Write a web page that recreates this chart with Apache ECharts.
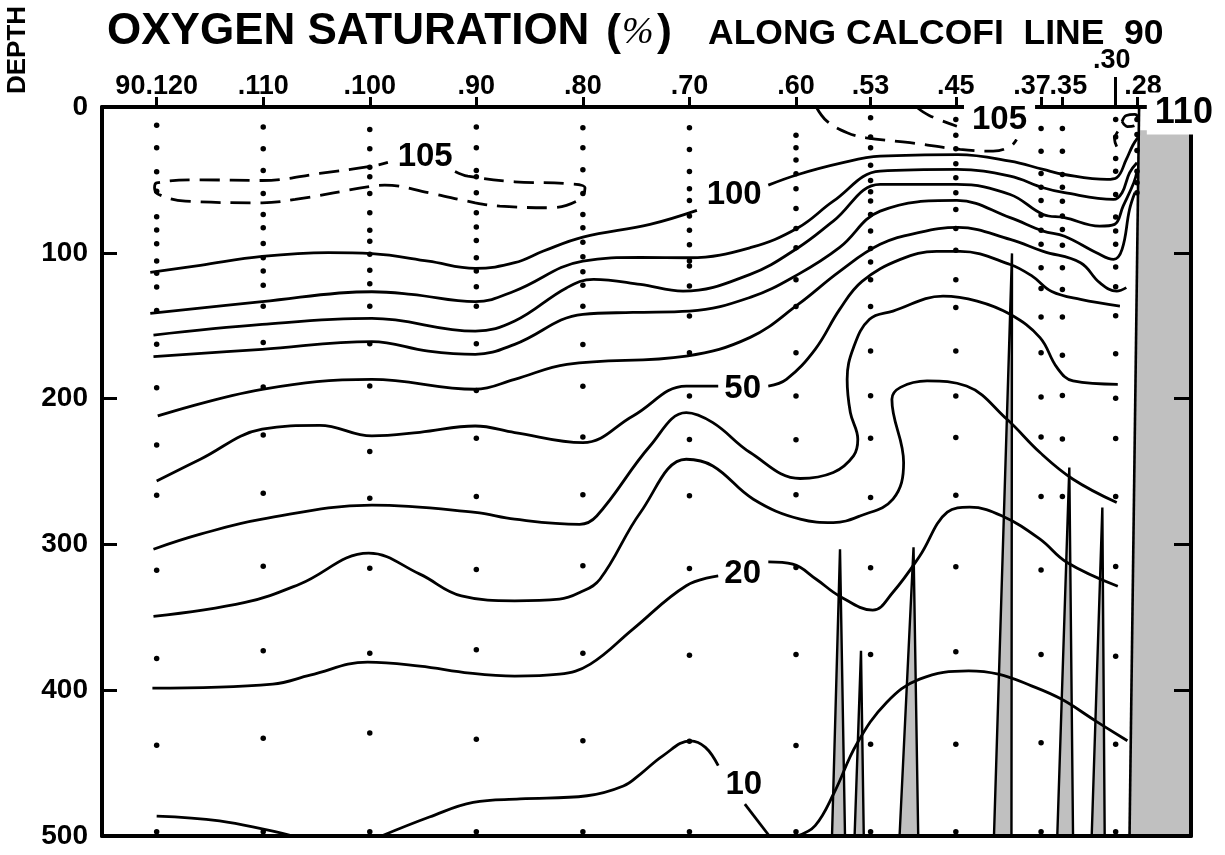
<!DOCTYPE html>
<html><head><meta charset="utf-8">
<script src="https://cdn.jsdelivr.net/npm/echarts@6/dist/echarts.min.js"></script>
<style>html,body{margin:0;padding:0;background:#fff}#c{width:1225px;height:855px}</style>
</head><body><div id="c"></div>
<script>
// ---- station axis (station number along CalCOFI line 90) ----
const tickStations = [120,110,100,90,80,70,60,53,45,37,35,28];
const raisedStation = [30];
const depthTicks = [0,100,200,300,400,500];

// ---- sample depths (m) at each station ----
const depths120 = [12.5,28,44.4,57.7,75.3,84.4,93.8,105.7,114.1,123.5,139.5,162.8,192.5,231.8,266.3,317.7,378.2,437.7,497];
const depths110 = [13.8,28.6,43.5,59.3,73.7,82.8,93.6,103.4,112.5,122.2,136.7,161.6,192,225,265,315,373,433,497];
const depths100 = [15.4,28.6,41.3,47.8,59.3,72.5,84.6,92,101,111.9,121.2,136.7,162.3,191.4,236.3,268.3,316.3,374.6,429.4,497];
const depths90  = [13.8,28,43.5,47.8,58.8,72.5,82.3,91.5,103.4,112.5,123.2,136.7,162.3,194.4,227.2,267.2,317.2,372.3,433.7,497];
const depths80  = [14.3,28,43,59.3,73.7,82.8,92.7,102.7,113,122.2,136.7,162.9,191.6,226.3,266,314.7,374.7,434.7,497];
const depths70  = [14.3,29.2,44.2,56.1,64.1,74.8,84.6,94.4,105.6,109,122.8,143.4,168.5,198.2,228,266.7,316.5,376,435,497];
const depths60  = [19.3,28,36.3,45.7,56.1,69.6,83.3,96.5,118.4,136.9,168.5,198.2,228.3,266,315.8,375.5,438,497];
const depths53  = [7.4,20.6,28,39.9,50.4,58.1,64.5,73.7,85.1,97,106.3,118.4,136.9,167.3,198,227.2,267.9,316,375.5,437,497];
const depths45  = [8.6,19.3,28.6,38.9,48.5,58.8,70.3,83.3,98.2,118.4,137.6,167.3,198.2,226.7,266.3,315.4,373.7,437,497];
const depths37  = [14.7,30.3,45.6,55,64.1,74.2,84.6,94.2,110.2,124.4,144.1,168.5,198.9,226.3,267.2,317.5,375.5,436,497];
const depths35  = [14.7,30.3,46.3,55,64.6,74.8,84,94.9,110.2,125.1,144.1,170.2,197.9,227.7,267.2];
const depths30  = [8.6,20.6,35.3,44,60,75.5,85,94.2,109.8,123.2,143.1,169.2,199.8,227.4,267.2,315.1,376.8,437,497];
const depths28  = [8.6,18.8,29.8,44,52,58.8];

// ---- contours: [station, depth] ----
const c105West = [[92.0,44.2],[90.8,47.4],[86.4,51.3],[81.5,52.6],[79.8,55.4],[80.3,63.4],[83.1,69.1],[87.8,68.0],[90.1,65.7],[94.5,58.8],[98.6,53.6],[99.8,54.3],[107.0,63.4],[110.1,65.7],[117.3,64.6],[119.8,60.0],[120.2,55.4],[120.0,52.0],[115.9,50.0],[110.1,50.4],[104.7,45.6],[99.8,40.6],[98.3,38.0]];
const c105EastA = [[58.1,0],[57.1,9.7],[55.2,17.7],[53.4,21.1],[49.3,24.5],[44.6,29.1],[41.5,30.3],[39.9,27.1],[39.3,22.3]];
const c105EastB = [[48.7,0],[47.5,5.8],[44.9,13.2]];
const c110Loop = [[29.4,9.9],[29.0,5.8],[28.2,5.1],[27.9,7.9],[28.2,12.7],[28.9,13.4],[29.4,9.9]];
const c105Coast = [[29.8,16.8],[30.1,22.3],[29.9,27.1]];
const c100West = [[120.6,113.4],[115.9,108.6],[110.1,102.5],[103.9,99.9],[99.8,100.6],[94.5,105.7],[90.1,110.7],[86.4,106.8],[83.7,98.8],[80.0,89.2],[73.7,80.5],[69.3,70.9]];
const c100East = [[62.6,53.6],[59.8,46.3],[55.9,38.7],[52.1,33.7],[44.8,32.6],[39.9,37.1],[36.8,42.8],[34.8,46.3],[30.8,49.7],[29.9,48.5],[29.0,36.0],[28.4,26.4],[27.9,20.9]];
const c90 = [[120.6,141.5],[110.1,133.5],[99.8,126.7],[96.1,128.5],[90.1,133.5],[86.4,126.2],[80.0,105.7],[74.6,103.2],[70.0,103.4],[64.3,96.5],[59.8,82.8],[56.5,64.6],[52.1,44.0],[44.9,42.8],[39.9,47.4],[36.8,55.4],[34.8,58.8],[30.2,63.4],[29.4,58.8],[28.7,45.1],[28.0,38.2]];
const c80 = [[120.3,156.4],[110.1,149.1],[99.8,145.0],[90.1,153.7],[86.4,146.8],[81.5,123.9],[79.0,118.2],[74.6,121.7],[70.6,126.3],[64.3,114.8],[59.8,96.5],[56.5,78.3],[52.1,53.1],[44.9,53.1],[39.9,60.0],[36.8,73.7],[34.8,75.9],[31.5,81.7],[30.1,80.5],[29.3,68.0],[28.3,52.0],[28.0,44.2]];
const c70 = [[120.3,171.2],[110.1,166.2],[99.8,160.9],[94.5,167.4],[90.1,169.6],[86.4,162.8],[80.0,142.2],[75.3,140.9],[70.0,140.0],[64.3,130.6],[59.8,114.8],[55.9,96.3],[52.1,71.4],[44.9,64.1],[39.9,75.9],[36.8,85.1],[34.8,88.6],[31.8,99.9],[30.2,104.5],[29.4,97.7],[28.7,70.3],[28.2,58.8]];
const c60 = [[119.9,211.9],[110.1,193.6],[99.8,186.8],[90.1,193.6],[86.4,186.8],[81.5,176.5],[70.3,170.8],[64.3,158.0],[59.8,135.4],[55.9,112.7],[52.1,94.2],[48.4,86.0],[44.8,82.6],[39.9,90.8],[36.8,99.0],[33.3,106.8],[31.5,120.5],[29.9,126.3],[29.0,123.9]];
const c50West = [[120.0,256.5],[115.9,241.6],[110.1,221.0],[104.7,218.3],[99.8,225.6],[95.3,223.1],[90.1,218.8],[86.4,223.3],[80.0,230.2],[75.3,211.9],[70.3,191.4],[67.3,191.4]];
const c50East = [[62.6,191.4],[60.9,186.8],[58.2,166.2],[55.9,138.8],[53.8,119.6],[50.2,104.5],[46.8,99.0],[44.6,99.0],[39.9,108.0],[37.8,116.2],[36.0,126.5],[33.3,131.9],[29.6,136.5]];
const c40 = [[120.3,303.3],[115.9,293.0],[110.1,282.7],[99.8,273.1],[90.1,278.1],[86.4,282.7],[80.3,286.2],[78.7,280.5],[73.7,232.5],[70.3,209.6],[67.8,216.5],[64.3,237.0],[59.6,254.8],[56.5,250.7],[54.6,239.3],[54.2,227.9],[54.9,209.6],[55.2,186.8],[54.6,165.0],[53.1,145.6],[50.9,140.0],[46.2,129.7],[43.0,133.1],[39.9,142.2],[37.1,158.2],[35.5,178.8],[34.0,187.9],[29.8,190.2]];
const c30 = [[120.3,349.4],[111.7,339.8],[106.6,327.3],[100.1,306.0],[95.3,320.4],[91.4,335.3],[86.4,338.7],[82.2,337.6],[80.3,333.0],[78.4,323.9],[74.6,278.1],[70.3,241.6],[67.8,246.2],[64.0,269.0],[59.6,282.7],[56.5,285.0],[54.0,280.5],[50.9,269.0],[49.9,243.9],[51.0,200.5],[50.2,192.3],[47.7,187.9],[44.0,191.4],[40.2,214.2],[37.1,237.0],[34.0,255.3],[29.9,271.3]];
const c20West = [[120.4,398.6],[109.1,395.8],[105.6,389.7],[100.2,380.7],[95.3,383.5],[90.6,388.3],[86.4,390.3],[82.2,389.0],[79.3,382.1],[75.3,358.1],[70.3,328.4],[67.3,321.6]];
const c20East = [[62.6,312.0],[60.3,313.6],[58.1,323.9],[55.9,335.5],[52.8,345.1],[50.9,332.8],[48.4,308.1],[45.8,277.9],[43.7,274.5],[40.6,280.7],[37.1,296.4],[34.6,312.2],[29.8,328.7]];
const c10A = [[120.0,486.3],[114.1,489.7],[107.2,500]];
const c10B = [[98.9,500],[94.4,487.0],[90.3,476.9],[85.9,474.6],[79.6,472.4],[76.2,465.7],[74.6,457.5],[72.5,445.0],[69.9,434.7],[68.5,439.2],[67.3,451.8]];
const c10C = [[64.8,478.1],[62.5,500]];
const c10D = [[59.9,500],[58.2,492.9],[56.4,470.0],[54.3,436.9],[51.5,408.4],[48.4,392.4],[43.8,386.7],[41.0,389.0],[37.9,397.0],[35.1,406.1],[31.9,421.0],[28.9,434.7]];

// contour labels: [station, depth, text]
const contourLabels = [[94.8,34.3,'105'],[65.8,60.3,'100'],[65.0,193.6,'50'],[65.0,320.4,'20'],[64.9,465.0,'10']];
const boxedLabel105 = [[40.9,8.6,'105']];
const boxedLabel110 = [[23.6,4.5,'110']];

// bottom topography spikes and shelf: [station, depth]
const spike1 = [[56.62,500],[55.87,303.3],[55.4,500]];
const spike2 = [[54.5,500],[53.9,373],[53.64,500]];
const spike3 = [[50.28,500],[48.97,302],[48.53,500]];
const spike4 = [[41.42,500],[39.73,100.4],[39.78,500]];
const spike5 = [[35.48,500],[34.35,247.3],[34.0,500]];
const spike6 = [[32.25,500],[31.25,274.7],[31.03,500]];
const shelf = [[27.75,16],[22.93,16],[22.93,500],[28.7,500]];
const coastEdge = [[27.8,0],[28.7,500]];

const X_MIN = 22.93, X_MAX = 125.13;
const FONT = '"Liberation Sans", Arial, Helvetica, sans-serif';

const stationDepths = [[120,depths120],[110,depths110],[100,depths100],[90,depths90],[80,depths80],[70,depths70],[60,depths60],[53,depths53],[45,depths45],[37,depths37],[35,depths35],[30,depths30],[28,depths28]];
const dots = [];
stationDepths.forEach(([s, arr]) => arr.forEach(d => dots.push([s, d])));

function solid(data){return {type:'line',data,smooth:0.4,symbol:'none',showSymbol:false,lineStyle:{color:'#000',width:2.8},z:5,silent:true};}
function dashed(data){return {type:'line',data,smooth:0.4,symbol:'none',showSymbol:false,lineStyle:{color:'#000',width:2.8,type:[20,10]},z:5,silent:true};}
function poly(points, fill, stroke){
  return {type:'custom',clip:true,z:3,silent:true,data:points,
    renderItem:(params, api)=>{
      if(params.dataIndex!==0) return null;
      const pts = points.map(p=>api.coord(p));
      return {type:'polygon',shape:{points:pts},style:{fill:fill,stroke:stroke||null,lineWidth:stroke?2.4:0}};
    }};
}
function topLabel(v){
  if(v===120) return '90.120';
  if(v===37) return '{l|.37}';
  if(v===35) return '{r|.35}';
  if(v===28) return '{r|.28}';
  return '.'+v;
}
function boxed(data, size){
  return {type:'scatter',data,symbolSize:1,itemStyle:{color:'#fff',opacity:1},z:20,silent:true,clip:false,
    label:{show:true,position:'inside',formatter:p=>p.data[2],color:'#000',opacity:1,textBorderWidth:0,fontSize:size,fontWeight:'bold',fontFamily:FONT,
      backgroundColor:'#fff',padding:[3,8,3,8]}};
}

const chart = echarts.init(document.getElementById('c'), null, {renderer:'canvas'});
const xBase = {type:'value',min:X_MIN,max:X_MAX,inverse:true,splitLine:{show:false},z:10};
const lblStyle = {color:'#000',fontSize:27,fontWeight:'bold',fontFamily:FONT};
chart.setOption({
  animation:false,
  backgroundColor:'#fff',
  grid:{left:102,right:34,top:107,bottom:19,show:false},
  xAxis:[
    Object.assign({},xBase,{position:'top',
      axisLine:{show:true,onZero:false,lineStyle:{color:'#000',width:4}},
      axisTick:{show:true,inside:false,length:10,customValues:tickStations,lineStyle:{color:'#000',width:3}},
      axisLabel:Object.assign({show:true,customValues:tickStations,margin:7,formatter:topLabel,
        rich:{l:Object.assign({padding:[0,18,0,0]},lblStyle),r:Object.assign({padding:[0,0,0,12]},lblStyle)}},lblStyle)}),
    Object.assign({},xBase,{position:'top',
      axisLine:{show:false},
      axisTick:{show:true,inside:false,length:30,customValues:raisedStation,lineStyle:{color:'#000',width:3}},
      axisLabel:Object.assign({show:true,customValues:raisedStation,margin:33,formatter:v=>'{l|.'+v+'}',
        rich:{l:Object.assign({padding:[0,8,0,0]},lblStyle)}},lblStyle)}),
    Object.assign({},xBase,{position:'bottom',
      axisLine:{show:true,onZero:false,lineStyle:{color:'#000',width:4}},
      axisTick:{show:false},axisLabel:{show:false}})
  ],
  yAxis:[
    {type:'value',min:0,max:500,interval:100,inverse:true,position:'left',z:10,splitLine:{show:false},
      axisLine:{show:true,onZero:false,lineStyle:{color:'#000',width:4}},
      axisTick:{show:true,inside:true,length:15,lineStyle:{color:'#000',width:3}},
      axisLabel:{show:true,margin:14,color:'#000',fontSize:28,fontWeight:'bold',fontFamily:FONT}},
    {type:'value',min:0,max:500,interval:100,inverse:true,position:'right',z:10,splitLine:{show:false},
      axisLine:{show:true,onZero:false,lineStyle:{color:'#000',width:4}},
      axisTick:{show:true,inside:true,length:17,lineStyle:{color:'#000',width:3}},
      axisLabel:{show:false}}
  ],
  graphic:[
    {type:'text',x:107,y:10,style:{text:'OXYGEN SATURATION',font:'bold 44px '+FONT,fill:'#000',verticalAlign:'top'}},
    {type:'text',x:606,y:10,style:{text:'(',font:'bold 45px '+FONT,fill:'#000',verticalAlign:'top'}},
    {type:'text',x:622,y:14,style:{text:'%',font:'italic 38px "Liberation Serif", "Times New Roman", serif',fill:'#000',verticalAlign:'top'}},
    {type:'text',x:657,y:10,style:{text:')',font:'bold 45px '+FONT,fill:'#000',verticalAlign:'top'}},
    {type:'text',x:708,y:16,style:{text:'ALONG CALCOFI  LINE  90',font:'bold 35.5px '+FONT,fill:'#000',verticalAlign:'top'}},
    {type:'text',x:18,y:50,rotation:Math.PI/2,style:{text:'DEPTH',font:'bold 26px '+FONT,fill:'#000',align:'center',verticalAlign:'middle'}}
  ],
  series:[
    poly(shelf,'#c0c0c0',null),
    poly(spike1,'#c0c0c0','#000'),
    poly(spike2,'#c0c0c0','#000'),
    poly(spike3,'#c0c0c0','#000'),
    poly(spike4,'#c0c0c0','#000'),
    poly(spike5,'#c0c0c0','#000'),
    poly(spike6,'#c0c0c0','#000'),
    {type:'line',data:coastEdge,symbol:'none',lineStyle:{color:'#000',width:2.6},z:6,silent:true},
    dashed(c105West), dashed(c105EastA), dashed(c105EastB), dashed(c110Loop), dashed(c105Coast),
    solid(c100West), solid(c100East), solid(c90), solid(c80), solid(c70), solid(c60),
    solid(c50West), solid(c50East), solid(c40), solid(c30), solid(c20West), solid(c20East),
    solid(c10A), solid(c10B), solid(c10C), solid(c10D),
    {type:'scatter',data:dots,symbol:'circle',symbolSize:5.5,itemStyle:{color:'#000',opacity:1},z:4,silent:true},
    {type:'scatter',data:contourLabels,symbolSize:1,itemStyle:{color:'#fff',opacity:1},z:20,silent:true,
      label:{show:true,position:'inside',formatter:p=>p.data[2],color:'#000',opacity:1,textBorderWidth:0,fontSize:33,fontWeight:'bold',fontFamily:FONT}},
    boxed(boxedLabel105, 33),
    boxed(boxedLabel110, 36)
  ]
});
</script></body></html>
